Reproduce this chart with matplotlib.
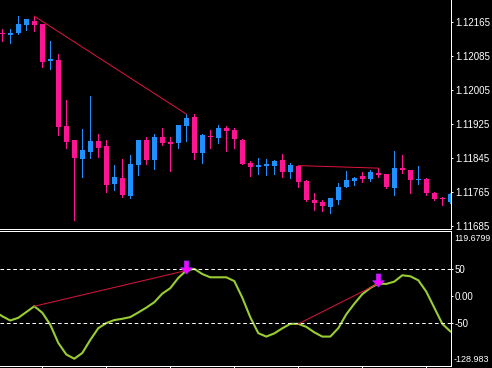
import matplotlib
matplotlib.use('Agg')
import matplotlib.pyplot as plt
import numpy as np
from matplotlib.path import Path

# ---------------- data ----------------
opens = [1.12137, 1.12133, 1.12139, 1.12157, 1.12167, 1.12160, 1.12073, 1.12075, 1.11920, 1.11887,
         1.11843, 1.11860, 1.11885, 1.11873, 1.11784, 1.11798, 1.11756, 1.11829, 1.11887, 1.11841,
         1.11894, 1.11882, 1.11881, 1.11921, 1.11941, 1.11857, 1.11896, 1.11892, 1.11915, 1.11911,
         1.11887, 1.11833, 1.11824, 1.11827, 1.11827, 1.11840, 1.11813, 1.11827, 1.11791, 1.11747,
         1.11742, 1.11730, 1.11747, 1.11777, 1.11791, 1.11802, 1.11796, 1.11810, 1.11808, 1.11775,
         1.11822, 1.11817, 1.11794, 1.11795, 1.11763, 1.11750, 1.11742]
highs = [1.12147, 1.12147, 1.12178, 1.12171, 1.12178, 1.12160, 1.12120, 1.12089, 1.11981, 1.11887,
         1.11913, 1.11990, 1.11901, 1.11887, 1.11828, 1.11842, 1.11852, 1.11887, 1.11894, 1.11901,
         1.11915, 1.11894, 1.11922, 1.11948, 1.11948, 1.11901, 1.11911, 1.11922, 1.11920, 1.11915,
         1.11889, 1.11838, 1.11845, 1.11842, 1.11840, 1.11854, 1.11833, 1.11827, 1.11792, 1.11763,
         1.11747, 1.11752, 1.11787, 1.11814, 1.11800, 1.11812, 1.11817, 1.11821, 1.11808, 1.11861,
         1.11852, 1.11817, 1.11827, 1.11798, 1.11766, 1.11754, 1.11763]
lows = [1.12120, 1.12116, 1.12137, 1.12145, 1.12144, 1.12059, 1.12054, 1.11900, 1.11869, 1.11699,
        1.11801, 1.11845, 1.11848, 1.11766, 1.11770, 1.11754, 1.11752, 1.11805, 1.11831, 1.11820,
        1.11876, 1.11815, 1.11869, 1.11885, 1.11843, 1.11834, 1.11869, 1.11881, 1.11862, 1.11869,
        1.11831, 1.11803, 1.11808, 1.11805, 1.11808, 1.11801, 1.11798, 1.11777, 1.11744, 1.11723,
        1.11721, 1.11716, 1.11737, 1.11777, 1.11782, 1.11789, 1.11791, 1.11801, 1.11775, 1.11759,
        1.11810, 1.11763, 1.11784, 1.11759, 1.11745, 1.11735, 1.11740]
closes = [1.12136, 1.12138, 1.12160, 1.12171, 1.12157, 1.12071, 1.12077, 1.11918, 1.11883, 1.11845,
          1.11864, 1.11885, 1.11869, 1.11782, 1.11800, 1.11759, 1.11831, 1.11887, 1.11841, 1.11894,
          1.11881, 1.11878, 1.11922, 1.11939, 1.11857, 1.11899, 1.11895, 1.11915, 1.11909, 1.11890,
          1.11831, 1.11824, 1.11829, 1.11831, 1.11838, 1.11813, 1.11828, 1.11789, 1.11745, 1.11740,
          1.11733, 1.11752, 1.11777, 1.11793, 1.11798, 1.11796, 1.11812, 1.11806, 1.11777, 1.11821,
          1.11817, 1.11794, 1.11796, 1.11763, 1.11749, 1.11749, 1.11761]

# oscillator, first value belongs to the bar just before the visible window
osc = [-27.8,
       -37.4, -45.2, -40.2, -29.6, -18.9, -30.9, -53.1, -86.5, -107.8, -115.6,
       -105.0, -80.9, -59.3, -50.0, -44.4, -42.0, -38.9, -30.4, -21.5, -11.5,
       4.3, 14.4, 33.3, 46.9, 50.0, 40.4, 34.4, 34.4, 34.4, 27.4,
       -3.1, -39.3, -68.5, -74.8, -68.9, -59.6, -51.3, -51.3, -56.9, -67.0,
       -74.8, -74.8, -59.3, -33.7, -14.3, 3.3, 14.8, 22.8, 22.2, 26.5,
       38.1, 36.3, 28.9, 8.0, -21.7, -51.3, -65.2]

price_ticks = [1.12165, 1.12085, 1.12005, 1.11925, 1.11845, 1.11765, 1.11685]
osc_ticks = [50, 0, -50]
osc_tick_labels = ['50', '0.00', '-50']
osc_max_label = '119.6799'
osc_min_label = '-128.983'
osc_max, osc_min = 119.6799, -128.983

# divergence segments (bar index pairs) and signal arrows
price_lines = [(4, 23), (37, 47)]
osc_lines = [(4, 23), (37, 47)]
arrow_bars = [23, 47]

# ---------------- style ----------------
W, H = 492, 368
BULL = '#1E90FF'
BEAR = '#FF1493'
LINE_RED = '#DC143C'
OSC_COL = '#9ACD32'
PX = 0.72  # one pixel in points at dpi 100
plt.rcParams['lines.scale_dashes'] = False
FONT = 'Liberation Sans'
FS = 7

fig = plt.figure(figsize=(W / 100, H / 100), dpi=100, facecolor='black')
ax = fig.add_axes([0, (H - 229) / H, 451 / W, 229 / H], facecolor='black')
ax2 = fig.add_axes([0, 2 / H, 451 / W, 135 / H], facecolor='black')

n = len(opens)
x = np.arange(n)
xlim = (-2.3 / 8, (451 - 2.3) / 8)

# ---- candles ----
pix_price = (1.12216 - 1.11678) / 229
for i in range(n):
    o, h, l, c = opens[i], highs[i], lows[i], closes[i]
    col = BULL if c >= o else BEAR
    ax.vlines(x[i], l, h, color=col, lw=PX, antialiased=False)
    bot = min(o, c)
    ht = max(abs(c - o), pix_price)
    ax.bar(x[i], ht, bottom=bot, width=0.6, color=col, lw=0, antialiased=False)

for a, b in price_lines:
    ax.plot([x[a], x[b]], [highs[a], highs[b]], color=LINE_RED, lw=PX)

ax.set_xlim(*xlim)
ax.set_ylim(1.11678, 1.12216)

# ---- oscillator ----
ox = np.arange(-1, n)
ax2.plot(ox, osc, color=OSC_COL, lw=1.5, solid_joinstyle='round')
for lv in osc_ticks:
    if lv != 0:
        ax2.axhline(lv, color='white', lw=PX, dashes=(2.6, 2.0))
oscv = dict(zip(ox, osc))
for a, b in osc_lines:
    ax2.plot([a, b], [oscv[a], oscv[b]], color=LINE_RED, lw=PX)

# down arrow marker
verts = [(-0.17, 0.5), (0.17, 0.5), (0.17, -0.02), (0.45, -0.02), (0.0, -0.5),
         (-0.45, -0.02), (-0.17, -0.02), (-0.17, 0.5)]
arrow = Path(verts, [Path.MOVETO] + [Path.LINETO] * 6 + [Path.CLOSEPOLY])
for b in arrow_bars:
    ax2.scatter([b], [oscv[b] + 6.0], marker=arrow, s=(13 * PX) ** 2,
                facecolor='#FF00FF', edgecolor='#9A30FF', linewidth=0.5, zorder=5)

ax2.set_xlim(*xlim)
ax2.set_ylim(osc_min, osc_max)

# ---- axes cosmetics ----
for a_ in (ax, ax2):
    for s in a_.spines.values():
        s.set_visible(False)
    a_.spines['right'].set_visible(True)
    a_.spines['right'].set_color('white')
    a_.spines['right'].set_linewidth(PX)
    a_.yaxis.tick_right()

ax.spines['bottom'].set_visible(True)
ax.spines['bottom'].set_color('white')
ax.spines['bottom'].set_linewidth(PX)
ax2.spines['top'].set_visible(True)
ax2.spines['top'].set_color('white')
ax2.spines['top'].set_linewidth(PX)
ax2.spines['bottom'].set_visible(True)
ax2.spines['bottom'].set_color('white')
ax2.spines['bottom'].set_linewidth(PX)

ax.set_xticks([])
ax.set_yticks(price_ticks)
ax.set_yticklabels([f'{p:.5f}' for p in price_ticks])
ax.tick_params(axis='y', colors='white', length=2.5 * PX, width=PX, pad=2.2 * PX,
               labelsize=FS)
for t in ax.get_yticklabels():
    t.set_family(FONT)

ax2.set_xticks([5, 13, 21, 29, 37, 45, 53])
ax2.tick_params(axis='x', colors='white', length=2 * PX, width=PX, labelbottom=False)
ax2.set_yticks(osc_ticks)
ax2.set_yticklabels(osc_tick_labels)
ax2.tick_params(axis='y', colors='white', length=2.5 * PX, width=PX, pad=1.5 * PX,
                labelsize=FS)
for t in ax2.get_yticklabels():
    t.set_family(FONT)

fig.text(454 / W, 1 - 238.5 / H, osc_max_label, color='white', fontsize=6.3,
         family=FONT, va='center', ha='left')
fig.text(454 / W, 1 - 360 / H, osc_min_label, color='white', fontsize=6.5,
         family=FONT, va='center', ha='left')

fig.savefig('out.png', dpi=100, facecolor='black')
